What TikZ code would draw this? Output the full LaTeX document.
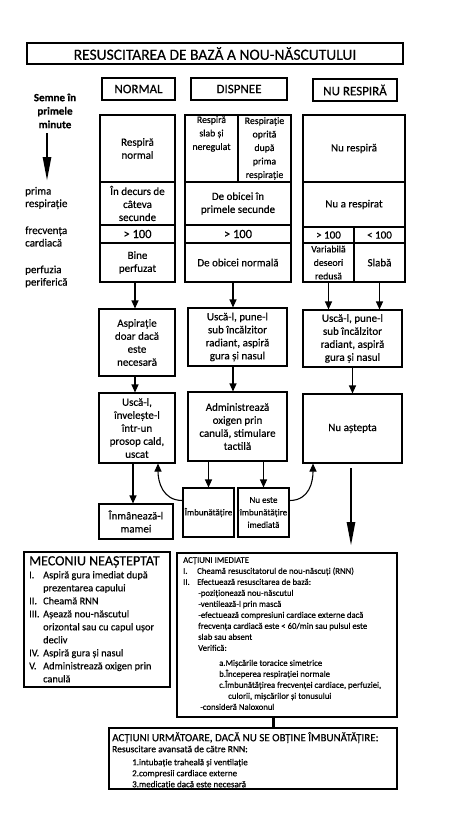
\documentclass[tikz,border=0pt]{standalone}
\usepackage{fontspec}
\setmainfont{Carlito}[FakeBold=0.4]
\usetikzlibrary{arrows.meta}
\newcommand\mklab[1]{\makebox[14pt][l]{#1}}
\begin{document}
\begin{tikzpicture}[x=1pt,y=-1pt,
  box/.style={draw, line width=1.1pt, inner sep=1pt, align=center},
  sz/.style 2 args={minimum width=#1pt, minimum height=#2pt},
  cf/.style={font=\fontsize{11}{13}\selectfont},
  gf/.style={font=\fontsize{12.5}{13}\selectfont},
  hf/.style={font=\fontsize{13}{15}\selectfont},
  sf/.style={font=\fontsize{9.8}{13.5}\selectfont},
  tf/.style={font=\fontsize{9}{12.5}\selectfont},
  lbl/.style={font=\fontsize{11}{12.5}\selectfont, align=left, anchor=west, inner sep=0pt},
  arr/.style={line width=1.1pt, -{Triangle[length=8pt,width=7pt]}},
  bigarr/.style={line width=2.6pt, -{Triangle[length=24pt,width=8pt]}},
]
\fill[white] (0,0) rectangle (474,816);
\useasboundingbox (0,0) rectangle (474,816);

% title and headers
\node[box, sz={376}{21}, font=\fontsize{15.5}{17}\selectfont] (title) at (215,53.5) {RESUSCITAREA DE BAZĂ A NOU-NĂSCUTULUI};
\node[box, sz={73}{22}, hf] (hnorm) at (138.5,89) {NORMAL};
\node[box, sz={96}{22}, hf] (hdisp) at (239,89) {DISPNEE};
\node[box, sz={84}{22}, hf] (hnur) at (355,90) {NU RESPIRĂ};

% left labels
\node[font=\bfseries\fontsize{11}{13.5}\selectfont, align=center, inner sep=0pt] (semne) at (55,111) {Semne în\\primele\\minute};
\coordinate (la1) at (47,133);
\coordinate (la2) at (47,181);
\draw[bigarr] (la1) -- (la2);
\node[lbl] (lprima) at (25,198) {prima\\respirație};
\node[lbl] (lfrec) at (25,236.5) {frecvența\\cardiacă};
\node[lbl] (lperf) at (25,276.5) {perfuzia\\periferică};

% NORMAL column
\node[box, sz={75}{67}, cf] (n1) at (137.5,148.5) {Respiră\\normal};
\node[box, sz={75}{43}, cf] (n2) at (137.5,203.5) {În decurs de\\câteva\\secunde};
\node[box, sz={75}{18}, gf] (n3) at (137.5,234) {> 100};
\node[box, sz={75}{39}, cf] (n4) at (137.5,262.5) {Bine\\perfuzat};

% DISPNEE column
\node[box, sz={53}{67}] (d1a) at (211.5,148.5) {};
\node[sf, align=center, anchor=north, inner sep=0pt] (d1at) at (211.5,116) {Respiră\\slab și\\neregulat};
\node[box, sz={53}{67}, sf] (d1b) at (264.5,148.5) {Respirație\\oprită\\după\\prima\\respirație};
\node[box, sz={106}{43}, cf] (d2) at (238,203.5) {De obicei în\\primele secunde};
\node[box, sz={106}{18}, gf] (d3) at (238,234) {> 100};
\node[box, sz={106}{39}, cf] (d4) at (238,262.5) {De obicei normală};

% NU RESPIRA column
\node[box, sz={102}{67}, cf] (r1) at (354,148.5) {Nu respiră};
\node[box, sz={102}{45}, cf] (r2) at (354,204.5) {Nu a respirat};
\node[box, sz={51}{16}, cf] (r3a) at (328.5,235) {> 100};
\node[box, sz={51}{16}, cf] (r3b) at (379.5,235) {< 100};
\node[box, sz={51}{39}, sf] (r4a) at (328.5,262.5) {Variabilă\\deseori\\redusă};
\node[box, sz={51}{39}, cf] (r4b) at (379.5,262.5) {Slabă};

% row 2
\node[box, sz={76}{67}, cf] (asp) at (137,342.5) {Aspirație\\doar dacă\\este\\necesară};
\node[box, sz={99}{58}, cf] (dusca) at (237.5,337) {Uscă-l, pune-l\\sub încălzitor\\radiant, aspiră\\gura și nasul};
\node[box, sz={99}{57}, cf] (rusca) at (352.5,338.5) {Uscă-l, pune-l\\sub încălzitor\\radiant, aspiră\\gura și nasul};

% row 3
\node[box, sz={76}{70}, cf] (usca) at (137,428) {Uscă-l,\\învelește-l\\într-un\\prosop cald,\\uscat};
\node[box, sz={99}{69}, cf] (admin) at (237.5,426.5) {Administrează\\oxigen prin\\canulă, stimulare\\tactilă};
\node[box, sz={99}{69}, cf] (nuast) at (352.5,428.5) {Nu aștepta};

% row 4
\node[box, sz={74}{35}, cf] (mamei) at (136,521.5) {Înmânează-l\\mamei};
\node[box, sz={51}{49}, tf, inner sep=0pt] (imb) at (208.5,512.5) {Îmbunătățire};
\node[box, sz={51}{49}, tf, inner sep=0pt] (nuimb) at (263.5,512.5) {Nu este\\îmbunătățire\\imediată};

% arrows column -> row 2
\draw[arr] ([xshift=-2.5pt]n4.south) -- ([xshift=-2.5pt]n4.south |- asp.north);
\draw[arr] ([xshift=-5pt]d4.south) -- ([xshift=-5pt]d4.south |- dusca.north);
\draw[arr] (r4a.south) -- (r4a.south |- rusca.north);
\draw[arr] (r4b.south) -- (r4b.south |- rusca.north);
% row 2 -> row 3
\draw[arr] ([xshift=-2pt]asp.south) -- ([xshift=-2pt]asp.south |- usca.north);
\draw[arr] ([xshift=-4.5pt]dusca.south) -- ([xshift=-4.5pt]dusca.south |- admin.north);
\draw[arr] (rusca.south) -- (rusca.south |- nuast.north);
% row 3 -> row 4
\draw[arr] ([xshift=-4pt]usca.south) -- ([xshift=-4pt]usca.south |- mamei.north);
\draw[arr] (imb.north |- admin.south) -- (imb.north);
\draw[arr] (nuimb.north |- admin.south) -- (nuimb.north);
% curved feedback arrows
\draw[arr] ([yshift=12pt]imb.west) .. controls +(-20,0) and +(0,18) .. ([xshift=21pt]usca.south);
\draw[arr] ([yshift=12pt]nuimb.east) .. controls +(20,0) and +(0,18) .. ([xshift=-39.5pt]nuast.south);
% big arrow
\coordinate (ba1) at (351,468);
\coordinate (ba2) at (351,546);
\draw[bigarr] (ba1) -- (ba2);

% MECONIU box
\node[box, sz={146}{135}] (mec) at (97,619.5) {};
\node[anchor=north west, inner sep=0pt, align=left, font=\fontsize{10.3}{13}\selectfont] (mect) at (29,556) {%
{\fontsize{14}{13}\selectfont MECONIU NEAȘTEPTAT}\\
\mklab{I.}Aspiră gura imediat după\\
\mklab{}prezentarea capului\\
\mklab{II.}Cheamă RNN\\
\mklab{III.}Așează nou-născutul\\
\mklab{}orizontal sau cu capul ușor\\
\mklab{}decliv\\
\mklab{IV.}Aspiră gura și nasul\\
\mklab{V.}Administrează oxigen prin\\
\mklab{}canulă};

% ACTIUNI IMEDIATE box
\node[box, sz={220}{164}] (act) at (287,635) {};
\node[anchor=north west, inner sep=0pt, align=left, font=\fontsize{8.7}{11}\selectfont] (actt) at (183,557) {%
ACȚIUNI IMEDIATE\\
\mklab{I.}Cheamă resuscitatorul de nou-născuți (RNN)\\
\mklab{II.}Efectuează resuscitarea de bază:\\
\hspace*{15pt}-poziționează nou-născutul\\
\hspace*{15pt}-ventilează-l prin mască\\
\hspace*{15pt}-efectuează compresiuni cardiace externe dacă\\
\hspace*{15pt}frecvența cardiacă este < 60/min sau pulsul este\\
\hspace*{15pt}slab sau absent\\
\hspace*{15pt}Verifică:\\[4pt]
\hspace*{36pt}a.Mișcările toracice simetrice\\
\hspace*{36pt}b.Începerea respirației normale\\
\hspace*{36pt}c.Îmbunătățirea frecvenței cardiace, perfuziei,\\
\hspace*{45pt}culorii, mișcărilor și tonusului\\
\hspace*{17pt}-consideră Naloxonul};

% bottom box
\node[box, sz={288}{61}] (urm) at (253,758.5) {};
\node[anchor=north west, inner sep=0pt, align=left, font=\fontsize{9}{11}\selectfont] (urmt) at (112,732) {%
{\fontsize{11}{11}\selectfont ACȚIUNI URMĂTOARE, DACĂ NU SE OBȚINE ÎMBUNĂTĂȚIRE:}\\
{\fontsize{9.5}{11}\selectfont Resuscitare avansată de către RNN:}\\[2pt]
\hspace*{20pt}1.intubație traheală și ventilație\\
\hspace*{20pt}2.compresii cardiace externe\\
\hspace*{20pt}3.medicație dacă este necesară};

\draw[line width=3pt] ([xshift=-14pt]act.south) -- ([xshift=-14pt]act.south |- urm.north);
\end{tikzpicture}
\end{document}
